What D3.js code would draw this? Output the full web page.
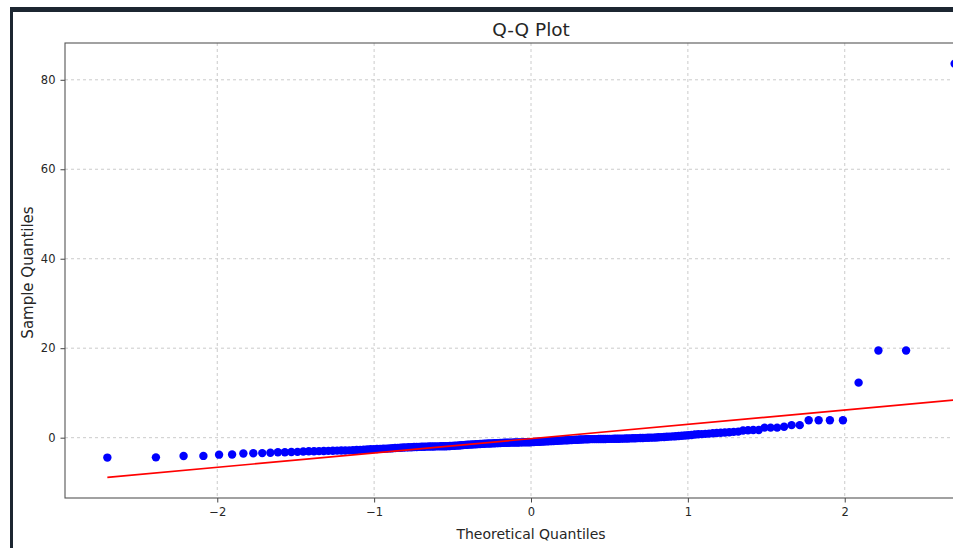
<!DOCTYPE html>
<html><head><meta charset="utf-8">
<script src="https://cdn.jsdelivr.net/npm/d3@7"></script>
<style>
body{margin:0;background:#fff;overflow:hidden}
svg{display:block}
text{font-family:"DejaVu Sans",sans-serif;fill:#262626}
</style>
</head><body>
<svg id="c" width="953" height="548"></svg>
<script>
// Sorted sample values, one per plotted point
const sampleQuantiles = [
-4.45,-4.40,-4.10,-4.08,-3.80,-3.75,-3.55,-3.47,-3.45,-3.38,
-3.27,-3.25,-3.20,-3.18,-3.08,-3.05,-3.02,-3.00,-2.98,-2.95,
-2.93,-2.90,-2.88,-2.86,-2.84,-2.80,-2.76,-2.72,-2.68,-2.62,
-2.58,-2.55,-2.52,-2.50,-2.47,-2.44,-2.40,-2.36,-2.32,-2.28,
-2.24,-2.20,-2.18,-2.15,-2.13,-2.10,-2.08,-2.06,-2.04,-2.02,
-2.00,-1.98,-1.97,-1.96,-1.95,-1.94,-1.93,-1.92,-1.91,-1.90,
-1.87,-1.84,-1.80,-1.77,-1.74,-1.70,-1.66,-1.62,-1.59,-1.56,
-1.53,-1.50,-1.47,-1.44,-1.41,-1.38,-1.35,-1.33,-1.31,-1.29,
-1.27,-1.25,-1.23,-1.21,-1.19,-1.17,-1.15,-1.13,-1.12,-1.11,
-1.10,-1.09,-1.08,-1.07,-1.06,-1.05,-1.04,-1.03,-1.02,-1.01,
-0.99,-0.97,-0.95,-0.92,-0.90,-0.88,-0.85,-0.83,-0.80,-0.78,
-0.76,-0.73,-0.71,-0.68,-0.66,-0.64,-0.61,-0.59,-0.56,-0.54,
-0.52,-0.49,-0.47,-0.45,-0.42,-0.40,-0.37,-0.35,-0.34,-0.33,
-0.33,-0.32,-0.32,-0.31,-0.30,-0.30,-0.29,-0.28,-0.27,-0.26,
-0.25,-0.24,-0.23,-0.22,-0.21,-0.20,-0.18,-0.16,-0.14,-0.12,
-0.10,-0.08,-0.06,-0.04,-0.02,0.00,0.02,0.05,0.08,0.12,
0.16,0.20,0.24,0.28,0.32,0.36,0.42,0.48,0.54,0.60,
0.70,0.75,0.80,0.85,0.90,1.00,1.05,1.10,1.15,1.20,
1.30,1.35,1.60,1.65,1.70,1.70,2.25,2.25,2.25,2.45,
2.80,2.80,3.90,3.90,3.90,3.90,12.30,19.50,19.50,83.60
];
const xTickValues = [-2, -1, 0, 1, 2];
const yTickValues = [0, 20, 40, 60, 80];
const fitSlope = 3.2;       // red reference line
const fitIntercept = -0.22;
const titleText = "Q-Q Plot";
const xLabelText = "Theoretical Quantiles";
const yLabelText = "Sample Quantiles";

// Standard normal quantile function (Acklam)
function normPpf(p){
  const a=[-3.969683028665376e+01,2.209460984245205e+02,-2.759285104469687e+02,1.383577518672690e+02,-3.066479806614716e+01,2.506628277459239e+00];
  const b=[-5.447609879822406e+01,1.615858368580409e+02,-1.556989798598866e+02,6.680131188771972e+01,-1.328068155288572e+01];
  const c=[-7.784894002430293e-03,-3.223964580411365e-01,-2.400758277161838e+00,-2.549732539343734e+00,4.374664141464968e+00,2.938163982698783e+00];
  const d=[7.784695709041462e-03,3.224671290700398e-01,2.445134137142996e+00,3.754408661907416e+00];
  const pl=0.02425;
  if(p<pl){const q=Math.sqrt(-2*Math.log(p));return (((((c[0]*q+c[1])*q+c[2])*q+c[3])*q+c[4])*q+c[5])/((((d[0]*q+d[1])*q+d[2])*q+d[3])*q+1);}
  if(p>1-pl){const q=Math.sqrt(-2*Math.log(1-p));return -(((((c[0]*q+c[1])*q+c[2])*q+c[3])*q+c[4])*q+c[5])/((((d[0]*q+d[1])*q+d[2])*q+d[3])*q+1);}
  const q=p-0.5,r=q*q;
  return (((((a[0]*r+a[1])*r+a[2])*r+a[3])*r+a[4])*r+a[5])*q/(((((b[0]*r+b[1])*r+b[2])*r+b[3])*r+b[4])*r+1);
}
// Theoretical quantiles at Filliben plotting positions (Q-Q plot construction)
const n = sampleQuantiles.length;
const positions = sampleQuantiles.map((_, i) => {
  if (i === 0) return 1 - Math.pow(0.5, 1 / n);
  if (i === n - 1) return Math.pow(0.5, 1 / n);
  return (i + 1 - 0.3175) / (n + 0.365);
});
const points = sampleQuantiles.map((v, i) => ({x: normPpf(positions[i]), y: v}));

const svg = d3.select("#c");

// page frame (notebook cell border)
svg.append("rect").attr("x",10).attr("y",7).attr("width",943).attr("height",5).attr("fill","#1c2631");
svg.append("rect").attr("x",10).attr("y",7).attr("width",3).attr("height",541).attr("fill","#1c2631");

const L=65, R=997, T=43, B=498;
const xExt = d3.extent(points, d => d.x);
const lineY = xExt.map(x => fitIntercept + fitSlope * x);
const yMin = Math.min(d3.min(points, d => d.y), ...lineY);
const yMax = Math.max(d3.max(points, d => d.y), ...lineY);
const xm = (xExt[1]-xExt[0])*0.05, ym = (yMax-yMin)*0.05;
const x = d3.scaleLinear().domain([xExt[0]-xm, xExt[1]+xm]).range([L, R]);
const y = d3.scaleLinear().domain([yMin-ym, yMax+ym]).range([B, T]);

svg.append("defs").append("clipPath").attr("id","clip")
  .append("rect").attr("x",L).attr("y",T).attr("width",R-L).attr("height",B-T);

// grid
const grid = svg.append("g");
grid.selectAll("line.gx").data(xTickValues).join("line")
  .attr("x1",d=>x(d)).attr("x2",d=>x(d)).attr("y1",T).attr("y2",B)
  .attr("stroke","#b0b0b0").attr("stroke-width",0.8).attr("stroke-dasharray","3,3").attr("opacity",0.8);
grid.selectAll("line.gy").data(yTickValues).join("line")
  .attr("y1",d=>y(d)).attr("y2",d=>y(d)).attr("x1",L).attr("x2",R)
  .attr("stroke","#b0b0b0").attr("stroke-width",0.8).attr("stroke-dasharray","3,3").attr("opacity",0.8);

const plot = svg.append("g").attr("clip-path","url(#clip)");
plot.selectAll("circle").data(points).join("circle")
  .attr("cx",d=>x(d.x)).attr("cy",d=>y(d.y)).attr("r",4.2).attr("fill","#0000ff");
plot.append("line")
  .attr("x1",x(xExt[0])).attr("y1",y(lineY[0]))
  .attr("x2",x(xExt[1])).attr("y2",y(lineY[1]))
  .attr("stroke","#ff0000").attr("stroke-width",1.7);

// axes
const xAxis = d3.axisBottom(x).tickValues(xTickValues).tickSize(4.5).tickPadding(5)
  .tickFormat(d => d < 0 ? "\u2212" + Math.abs(d) : String(d));
const yAxis = d3.axisLeft(y).tickValues(yTickValues).tickSize(4.5).tickPadding(5)
  .tickFormat(d => String(d));
const gx = svg.append("g").attr("transform",`translate(0,${B})`).call(xAxis);
const gy = svg.append("g").attr("transform",`translate(${L},0)`).call(yAxis);
[gx, gy].forEach(g => {
  g.select(".domain").remove();
  g.selectAll(".tick line").attr("stroke","#444").attr("stroke-width",1);
  g.selectAll(".tick text").attr("font-family","DejaVu Sans").attr("font-size",11.5).attr("fill","#222");
});

// spines
svg.append("rect").attr("x",L).attr("y",T).attr("width",R-L).attr("height",B-T)
  .attr("fill","none").attr("stroke","#555").attr("stroke-width",1.1);

// labels
svg.append("text").attr("x",(L+R)/2).attr("y",35.5).attr("text-anchor","middle")
  .attr("font-size",18.5).text(titleText);
svg.append("text").attr("x",(L+R)/2).attr("y",539).attr("text-anchor","middle")
  .attr("font-size",14).text(xLabelText);
svg.append("text").attr("transform",`translate(32.5,${(T+B)/2 + 2}) rotate(-90)`).attr("text-anchor","middle")
  .attr("font-size",15).text(yLabelText);
</script>
</body></html>
